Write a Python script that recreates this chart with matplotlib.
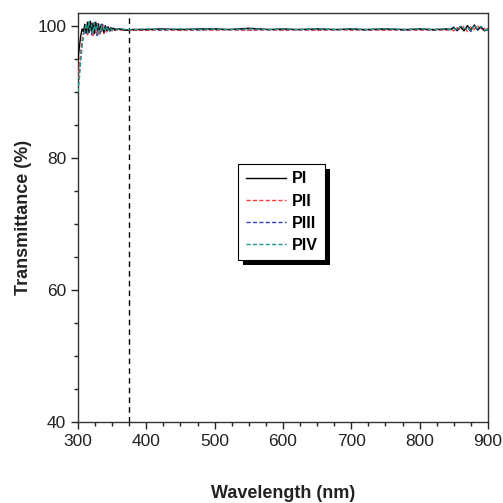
import matplotlib
matplotlib.use("Agg")
import matplotlib.pyplot as plt
from matplotlib.patches import Rectangle
from matplotlib.ticker import MultipleLocator

plt.rcParams['font.family'] = ['Liberation Sans', 'DejaVu Sans']

wavelength = [300, 302, 304, 306, 308, 310, 312, 314, 316, 318, 320, 322, 324, 326, 328, 330,
              332, 334, 336, 338, 340, 342, 344, 346, 348, 350, 352, 354, 356, 358, 360,
              365, 370, 380,
              400, 420, 450, 480, 500, 520, 550, 580, 600, 620, 650, 680, 700, 720, 750, 780, 800, 820, 840,
              845, 850, 855, 860, 865, 870, 875, 880, 885, 890, 895, 900]

PI = [95.0, 96.8, 98.5, 99.6, 99.2, 100.3, 99.1, 100.6, 99.0, 100.7, 99.3, 100.4, 98.9, 100.6, 99.5, 100.2,
      98.9, 100.3, 99.6, 99.1, 100.1, 99.4, 99.9, 99.3, 99.8, 99.6, 99.7, 99.4, 99.6, 99.5, 99.6,
      99.5, 99.4, 99.5,
      99.5, 99.6, 99.5, 99.6, 99.6, 99.5, 99.7, 99.5, 99.6, 99.5, 99.6, 99.5, 99.6, 99.5, 99.6, 99.5, 99.6, 99.5, 99.6,
      99.5, 99.8, 99.4, 99.9, 99.3, 100.1, 99.4, 100.2, 99.5, 99.9, 99.3, 99.6]

PII = [92.0, 93.8, 96.0, 97.8, 98.9, 99.5, 100.3, 98.7, 100.1, 99.2, 100.5, 98.6, 100.2, 99.0, 100.4, 98.8,
       100.0, 99.3, 100.1, 98.9, 99.9, 99.2, 100.0, 99.4, 99.6, 99.3, 99.7, 99.5, 99.4, 99.6, 99.5,
       99.4, 99.5, 99.4,
       99.4, 99.5, 99.4, 99.5, 99.4, 99.5, 99.4, 99.5, 99.4, 99.5, 99.4, 99.5, 99.4, 99.5, 99.4, 99.5, 99.4, 99.5, 99.4,
       99.6, 99.3, 99.8, 99.4, 100.0, 99.2, 99.9, 99.5, 100.1, 99.4, 99.7, 99.5]

PIII = [91.0, 93.0, 95.5, 97.5, 98.8, 99.9, 98.9, 100.6, 99.3, 100.8, 98.7, 100.5, 99.4, 100.1, 98.6, 100.4,
        99.5, 99.0, 100.3, 99.3, 99.8, 99.0, 99.7, 99.5, 99.3, 99.7, 99.4, 99.6, 99.5, 99.4, 99.5,
        99.5, 99.4, 99.5,
        99.5, 99.4, 99.5, 99.4, 99.5, 99.5, 99.4, 99.5, 99.4, 99.5, 99.4, 99.5, 99.5, 99.4, 99.5, 99.4, 99.5, 99.4, 99.5,
        99.4, 99.9, 99.3, 100.0, 99.5, 99.8, 99.2, 100.1, 99.4, 99.8, 99.5, 99.4]

PIV = [90.0, 92.0, 94.8, 97.0, 98.5, 99.6, 100.4, 99.0, 100.7, 99.4, 100.2, 98.9, 100.6, 99.2, 100.3, 99.6,
       98.8, 100.2, 99.4, 99.7, 99.2, 100.0, 99.6, 99.3, 99.7, 99.4, 99.6, 99.5, 99.6, 99.5, 99.5,
       99.6, 99.5, 99.5,
       99.6, 99.5, 99.6, 99.5, 99.6, 99.5, 99.6, 99.5, 99.6, 99.5, 99.6, 99.5, 99.6, 99.5, 99.6, 99.5, 99.6, 99.5, 99.6,
       99.5, 99.7, 99.4, 100.0, 99.6, 99.9, 99.3, 100.2, 99.6, 100.0, 99.4, 99.5]

cutoff = 375
series_labels = ["PI", "PII", "PIII", "PIV"]

fig = plt.figure(figsize=(5.03, 5.03), dpi=100)
ax = fig.add_axes([0.155, 0.161, 0.815, 0.813])

ax.plot(wavelength, PI, color="black", lw=1.0, ls="-", label=series_labels[0], zorder=5)
ax.plot(wavelength, PII, color="#ff3b3b", lw=1.0, ls=(0, (3, 1.6)), label=series_labels[1], zorder=4)
ax.plot(wavelength, PIII, color="#3a3fb8", lw=1.0, ls=(0, (3, 1.6)), label=series_labels[2], zorder=3)
ax.plot(wavelength, PIV, color="#1f9a8e", lw=1.0, ls=(0, (3, 1.6)), label=series_labels[3], zorder=6)

ax.axvline(cutoff, color="black", lw=1.0, ls=(0, (4, 3)), zorder=2)

ax.set_xlim(300, 900)
ax.set_ylim(40, 102)
ax.xaxis.set_major_locator(MultipleLocator(100))
ax.xaxis.set_minor_locator(MultipleLocator(25))
ax.yaxis.set_major_locator(MultipleLocator(20))
ax.yaxis.set_minor_locator(MultipleLocator(5))
ax.tick_params(which="major", direction="out", length=5, width=1, labelsize=12.5, colors="#222222")
ax.tick_params(which="minor", direction="out", length=3, width=1, colors="#222222")
for s in ax.spines.values():
    s.set_linewidth(1.0)
    s.set_color("#333333")

ax.set_xlabel("Wavelength (nm)", fontsize=13, fontweight="bold", labelpad=26, color="#222222")
ax.set_ylabel("Transmittance (%)", fontsize=13, fontweight="bold", labelpad=4, color="#222222")

leg = ax.legend(loc="center", bbox_to_anchor=(0.497, 0.513), fancybox=False, frameon=True,
                edgecolor="black", framealpha=1, prop={"size": 11.5, "weight": "bold"},
                handlelength=2.5, handletextpad=0.4, borderpad=0.45, labelspacing=0.45,
                borderaxespad=0)
leg.get_frame().set_linewidth(0.8)

fig.canvas.draw()
bb = leg.get_window_extent()
shadow = Rectangle((bb.x0 + 5, bb.y0 - 5), bb.width, bb.height, transform=None,
                   facecolor="black", edgecolor="none", zorder=19)
fig.add_artist(shadow)
leg.remove()
fig.legends.append(leg)
leg.set_zorder(21)

fig.savefig("out.png", dpi=100)
